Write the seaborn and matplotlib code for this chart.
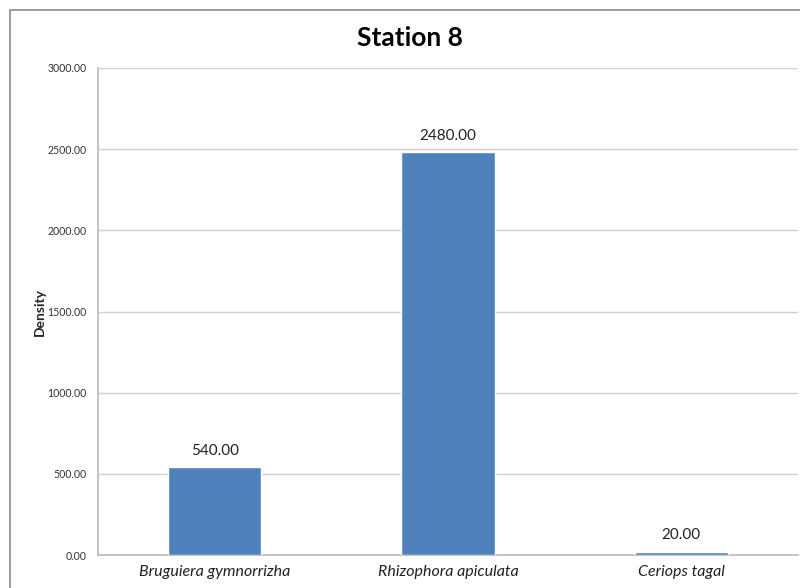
import matplotlib
matplotlib.use("Agg")
import matplotlib.pyplot as plt
import seaborn as sns
import pandas as pd
from matplotlib.patches import Rectangle

species = ["Bruguiera gymnorrizha", "Rhizophora apiculata", "Ceriops tagal"]
density = [540.0, 2480.0, 20.0]
yticks = [0, 500, 1000, 1500, 2000, 2500, 3000]

sns.set_theme(style="white")
plt.rcParams["font.family"] = ["Lato", "DejaVu Sans"]

df = pd.DataFrame({"species": species, "density": density})

fig = plt.figure(figsize=(8.0, 5.88), dpi=100)
ax = fig.add_axes([98 / 800, 1 - 555 / 588, 700 / 800, (555 - 68) / 588])

sns.barplot(data=df, x="species", y="density", color="#4F81BD", saturation=1,
            width=0.4, ax=ax, zorder=3)

ax.set_ylim(0, 3000)
ax.set_yticks(yticks)
ax.set_yticklabels([f"{v:.2f}" for v in yticks], fontsize=7.6, color="#333333")
ax.yaxis.grid(True, color="#D0D0D0", linewidth=1)
ax.set_axisbelow(True)
ax.tick_params(axis="y", length=0, pad=8)
ax.tick_params(axis="x", length=0, pad=7)
for lbl in ax.get_xticklabels():
    lbl.set_fontstyle("italic")
    lbl.set_fontsize(11.5)
    lbl.set_color("#222222")

for side in ("top", "right"):
    ax.spines[side].set_visible(False)
ax.spines["left"].set_color("#BDBDBD")
ax.spines["bottom"].set_color("#BDBDBD")

ax.set_xlabel("")
ax.set_ylabel("Density", fontsize=10, fontweight="bold")
ax.yaxis.set_label_coords(-0.075, 0.5)

for i, v in enumerate(density):
    ax.annotate(f"{v:.2f}", (i, v), xytext=(0, 7), textcoords="offset points",
                ha="center", va="bottom", fontsize=11, color="#222222")

fig.text(410 / 800, 1 - 38 / 588, "Station 8", ha="center", va="center",
         fontsize=19, fontweight="bold", color="black")

fig.patches.append(Rectangle((10 / 800, -0.5), 2.0, 1.5 - 10 / 588,
                             transform=fig.transFigure, fill=False,
                             edgecolor="#8A8A8A", linewidth=1.2))

fig.savefig("out.png", dpi=100)
